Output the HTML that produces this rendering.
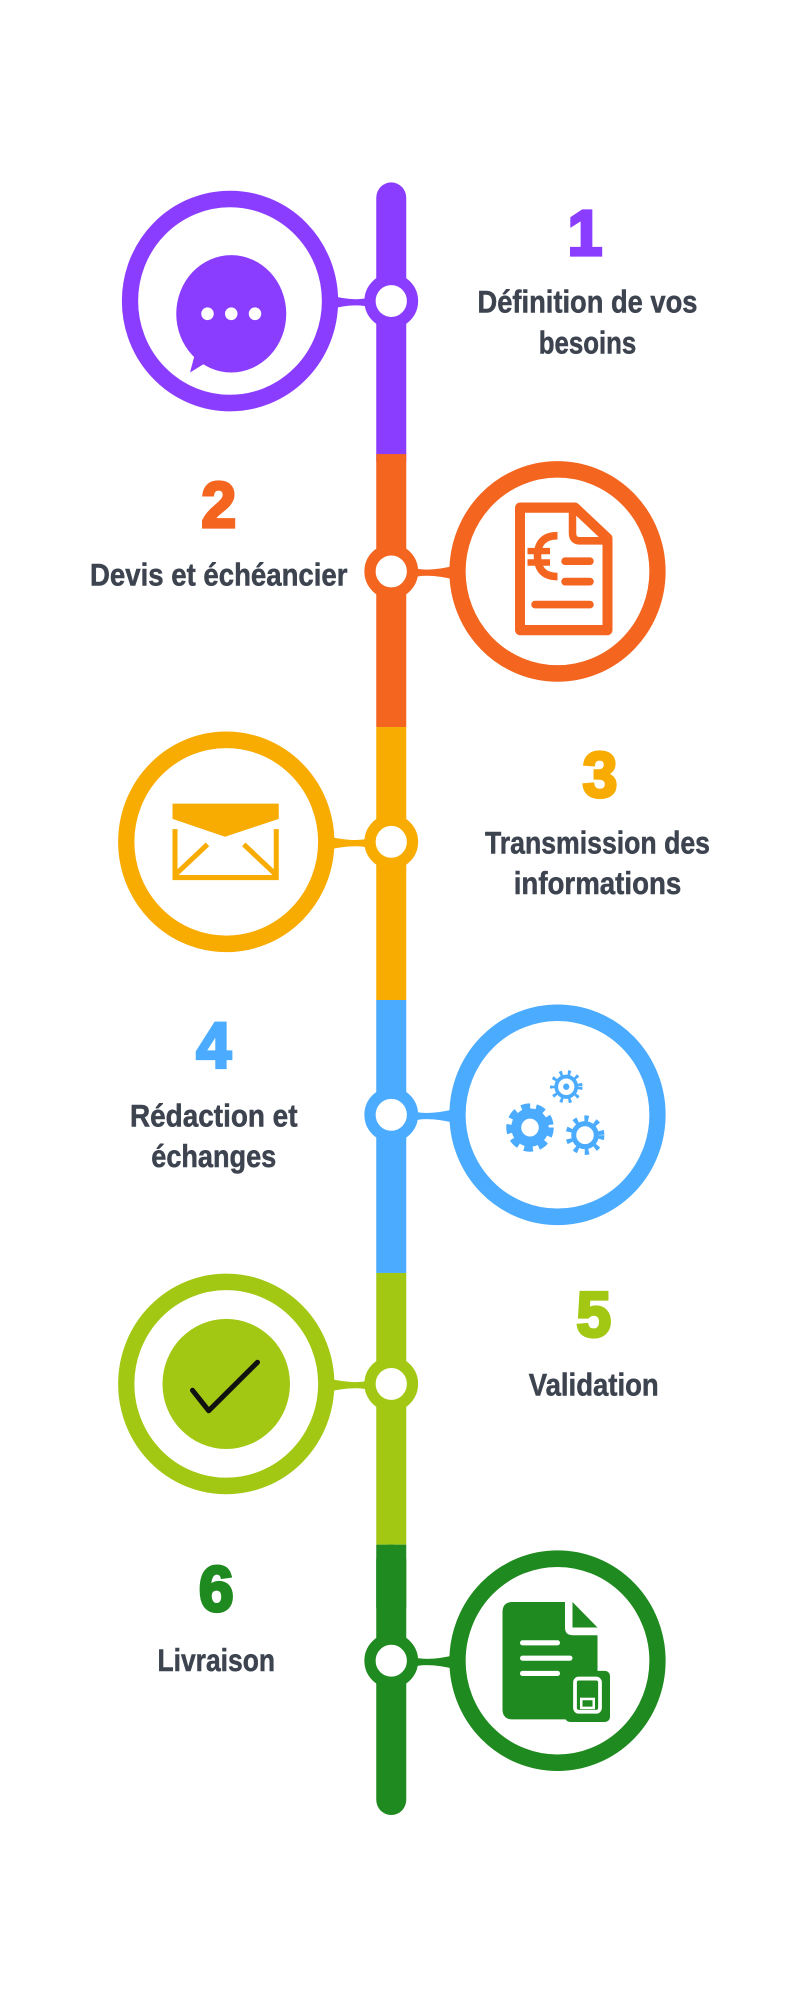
<!DOCTYPE html>
<html><head><meta charset="utf-8"><style>
html,body{margin:0;padding:0;background:#fff;}
svg{display:block;}
.t{font-family:"Liberation Sans",sans-serif;font-weight:bold;fill:#3d4450;font-size:25px;stroke:#3d4450;stroke-width:0.4px;}
.n{font-family:"Liberation Sans",sans-serif;font-weight:900;font-size:50px;stroke-width:2.5px;}
</style></head><body>
<svg width="800" height="2000" viewBox="0 0 640 1568" preserveAspectRatio="none" xmlns="http://www.w3.org/2000/svg">
<rect x="301" y="143" width="24" height="230" rx="12" fill="#8b3dff"/>
<rect x="301" y="356" width="24" height="214" fill="#f46520"/>
<rect x="301" y="570" width="24" height="214" fill="#f8ab00"/>
<rect x="301" y="784" width="24" height="214" fill="#4aabff"/>
<rect x="301" y="998" width="24" height="213" fill="#a2c814"/>
<rect x="301" y="1211" width="24" height="212" rx="12" fill="#1f8a1f"/>
<rect x="301" y="1211" width="24" height="50" fill="#1f8a1f"/>

<g fill="#8b3dff" stroke="#8b3dff">
<circle cx="184" cy="236" r="80" fill="none" stroke-width="13"/>
<path d="M262 231 Q280 236 292 234 L292 240 Q280 238 262 243 Z" stroke="none"/>
<circle cx="313" cy="236" r="17" fill="#fff" stroke-width="9"/>
<ellipse cx="185" cy="246" rx="44" ry="46" stroke="none"/>
<path d="M158 270 L152 292 L172 280 Z" stroke="none"/>
</g>
<circle cx="166" cy="246" r="5" fill="#fff"/><circle cx="185" cy="246" r="5" fill="#fff"/><circle cx="204" cy="246" r="5" fill="#fff"/>
<text class="n" x="468" y="200" text-anchor="middle" fill="#8b3dff" stroke="#8b3dff">1</text>
<text class="t" x="470" y="245" text-anchor="middle" textLength="176" lengthAdjust="spacingAndGlyphs">Définition de vos</text>
<text class="t" x="470" y="277" text-anchor="middle" textLength="78" lengthAdjust="spacingAndGlyphs">besoins</text>

<g fill="#f46520" stroke="#f46520">
<circle cx="446" cy="448" r="80" fill="none" stroke-width="13"/>
<path d="M366 443 Q346 448 334 446 L334 452 Q346 450 366 455 Z" stroke="none"/>
<circle cx="313" cy="448" r="17" fill="#fff" stroke-width="9"/>
<path d="M416 398 L460 398 L486 422 L486 494 L416 494 Z" fill="none" stroke-width="8" stroke-linejoin="round"/>
<path d="M458 398 L458 418 Q458 424 464 424 L486 424" fill="none" stroke-width="6"/>
<path d="M446 420 Q430 420 430 436 Q430 452 446 452" fill="none" stroke-width="6"/>
<line x1="422" y1="432" x2="440" y2="432" stroke-width="5"/><line x1="422" y1="441" x2="440" y2="441" stroke-width="5"/>
<line x1="452" y1="440" x2="472" y2="440" stroke-width="6" stroke-linecap="round"/>
<line x1="452" y1="456" x2="472" y2="456" stroke-width="6" stroke-linecap="round"/>
<line x1="428" y1="474" x2="472" y2="474" stroke-width="6" stroke-linecap="round"/>
</g>
<text class="n" x="175" y="413" text-anchor="middle" fill="#f46520" stroke="#f46520">2</text>
<text class="t" x="175" y="459" text-anchor="middle" textLength="206" lengthAdjust="spacingAndGlyphs">Devis et échéancier</text>

<g fill="#f8ab00" stroke="#f8ab00">
<circle cx="181" cy="660" r="80" fill="none" stroke-width="13"/>
<path d="M259 655 Q280 660 292 658 L292 664 Q280 662 259 667 Z" stroke="none"/>
<circle cx="313" cy="660" r="17" fill="#fff" stroke-width="9"/>
<path d="M138 630 L223 630 L223 642 L180 656 L138 642 Z" stroke="none"/>
<path d="M140 650 L140 688 L221 688 L221 650" fill="none" stroke-width="4"/>
<path d="M140 686 L166 662 M221 686 L195 662" fill="none" stroke-width="4"/>
</g>
<text class="n" x="480" y="625" text-anchor="middle" fill="#f8ab00" stroke="#f8ab00">3</text>
<text class="t" x="478" y="669" text-anchor="middle" textLength="180" lengthAdjust="spacingAndGlyphs">Transmission des</text>
<text class="t" x="478" y="701" text-anchor="middle" textLength="134" lengthAdjust="spacingAndGlyphs">informations</text>

<g fill="#4aabff" stroke="#4aabff">
<circle cx="446" cy="874" r="80" fill="none" stroke-width="13"/>
<path d="M366 869 Q346 874 334 872 L334 878 Q346 876 366 881 Z" stroke="none"/>
<circle cx="313" cy="874" r="17" fill="#fff" stroke-width="9"/>
<circle cx="424" cy="884" r="14" fill="none" stroke-width="10" stroke-dasharray="6 4"/>
<circle cx="424" cy="884" r="11" fill="none" stroke-width="8"/>
<circle cx="468" cy="890" r="12" fill="none" stroke-width="7" stroke-dasharray="3 5"/>
<circle cx="468" cy="890" r="9" fill="none" stroke-width="4"/>
<circle cx="453" cy="852" r="10" fill="none" stroke-width="6" stroke-dasharray="2 4"/>
<circle cx="453" cy="852" r="8" fill="none" stroke-width="3"/>
<circle cx="453" cy="852" r="2.5" stroke="none"/>
</g>
<text class="n" x="171" y="837" text-anchor="middle" fill="#4aabff" stroke="#4aabff">4</text>
<text class="t" x="171" y="883" text-anchor="middle" textLength="134" lengthAdjust="spacingAndGlyphs">Rédaction et</text>
<text class="t" x="171" y="915" text-anchor="middle" textLength="100" lengthAdjust="spacingAndGlyphs">échanges</text>

<g fill="#a2c814" stroke="#a2c814">
<circle cx="181" cy="1085" r="80" fill="none" stroke-width="13"/>
<path d="M259 1080 Q280 1085 292 1083 L292 1089 Q280 1087 259 1092 Z" stroke="none"/>
<circle cx="313" cy="1085" r="17" fill="#fff" stroke-width="9"/>
<circle cx="181" cy="1085" r="51" stroke="none"/>
</g>
<path d="M154 1090 L167 1106 L206 1068" fill="none" stroke="#111" stroke-width="4" stroke-linecap="round" stroke-linejoin="round"/>
<text class="n" x="475" y="1048" text-anchor="middle" fill="#a2c814" stroke="#a2c814">5</text>
<text class="t" x="475" y="1094" text-anchor="middle" textLength="104" lengthAdjust="spacingAndGlyphs">Validation</text>

<g fill="#1f8a1f" stroke="#1f8a1f">
<circle cx="446" cy="1302" r="80" fill="none" stroke-width="13"/>
<path d="M366 1297 Q346 1302 334 1300 L334 1306 Q346 1304 366 1309 Z" stroke="none"/>
<circle cx="313" cy="1302" r="17" fill="#fff" stroke-width="9"/>
<path d="M410 1256 L452 1256 L452 1276 Q452 1282 458 1282 L478 1282 L478 1340 Q478 1348 470 1348 L410 1348 Q402 1348 402 1340 L402 1264 Q402 1256 410 1256 Z" stroke="none"/>
<path d="M458 1256 L478 1276 L458 1276 Z" stroke="none"/>
<rect x="452" y="1310" width="36" height="40" rx="4" stroke="none"/>
</g>
<g stroke="#fff" stroke-width="4" stroke-linecap="round" fill="none">
<line x1="418" y1="1288" x2="446" y2="1288"/><line x1="418" y1="1300" x2="456" y2="1300"/><line x1="418" y1="1312" x2="446" y2="1312"/>
<rect x="460" y="1316" width="20" height="26" rx="3" stroke-width="3"/>
<rect x="465" y="1332" width="10" height="7" stroke-width="2"/>
</g>
<text class="n" x="173" y="1263" text-anchor="middle" fill="#1f8a1f" stroke="#1f8a1f">6</text>
<text class="t" x="173" y="1310" text-anchor="middle" textLength="94" lengthAdjust="spacingAndGlyphs">Livraison</text>
</svg>
</body></html>
